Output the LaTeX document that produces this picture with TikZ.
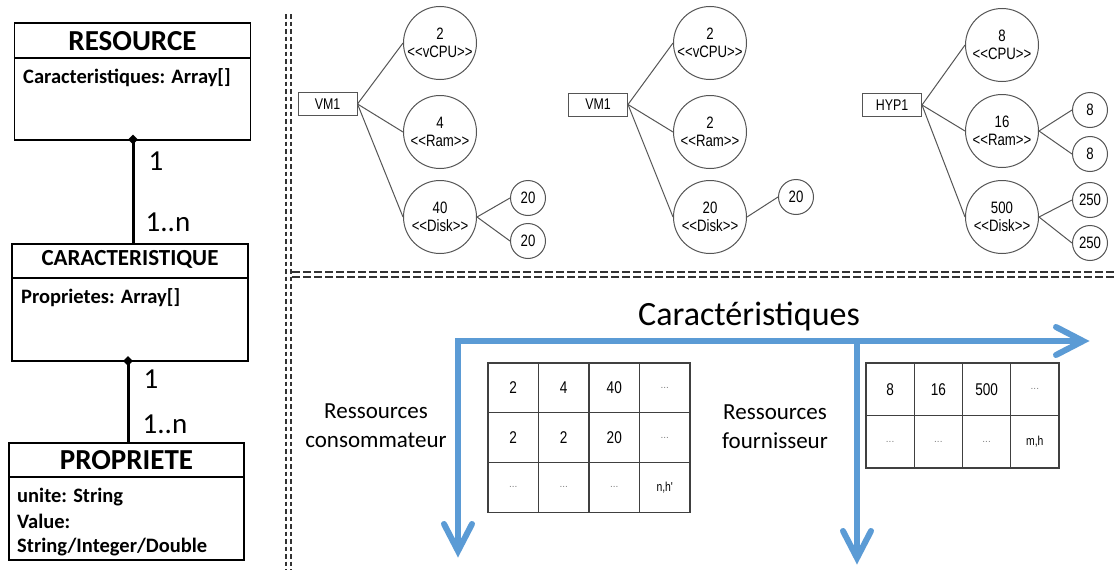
\documentclass[tikz,border=0pt]{standalone}
\usepackage{fontspec}
\setmainfont{Carlito}
\newfontfamily\arialf{Liberation Sans}
\usetikzlibrary{shapes.geometric}
\newcommand\nr[1]{\scalebox{0.8}[1]{#1}}
\newcommand\fs[1]{\fontsize{#1}{#1}\selectfont}
\definecolor{axisblue}{HTML}{5B9BD5}
\definecolor{treegray}{HTML}{555555}
\tikzset{
  umlbox/.style={draw=black, line width=1.4pt, inner sep=0pt},
  umltitle/.style={font=\fs{29}\bfseries, inner sep=0pt},
  umlattr/.style={font=\fs{20.5}\bfseries, inner sep=0pt, anchor=west},
  mult/.style={font=\fs{29}, inner sep=0pt},
  assoc/.style={line width=3pt},
  dmd/.style={diamond, fill=black, minimum size=10pt, inner sep=0pt},
  sep/.style={draw=black!80, line width=2pt},
  rootbox/.style={draw=treegray, line width=1pt, minimum width=59pt, minimum height=23pt, inner sep=0pt, font=\arialf\fs{15.5}},
  bigc/.style={circle, draw=treegray, line width=1pt, minimum size=73pt, inner sep=0pt, align=center, font=\arialf\fontsize{16.5}{17.5}\selectfont},
  smallc/.style={circle, draw=treegray, line width=1pt, minimum size=35pt, inner sep=0pt, font=\arialf\fs{16.5}},
  edge/.style={draw=treegray, line width=1pt},
  cellA/.style={draw=black!75, line width=1.2pt, minimum width=50.5pt, minimum height=49.7pt, inner sep=0pt, font=\arialf\fs{17}},
  cellB/.style={draw=black!75, line width=1.2pt, minimum width=48.25pt, minimum height=52.5pt, inner sep=0pt, font=\arialf\fs{17}},
  bluearrow/.style={draw=axisblue, line width=6pt},
  bluetip/.style={draw=axisblue, line width=6pt, line cap=round, line join=miter},
  axislabel/.style={font=\fontsize{23}{29}\selectfont, align=center, inner sep=0pt}
}
\newcommand\dt{\textcolor{gray}{\fs{10}...}}
\begin{document}
\begin{tikzpicture}[x=1pt,y=-1pt]
\useasboundingbox (0,0) rectangle (1114,570);
\fill[white] (0,0) rectangle (1114,570);

% ---------- UML ----------
\node[umlbox, minimum width=236pt, minimum height=117pt] (res) at (132.5,81.5) {};
\draw[line width=1.4pt] (res.west |- 0,58) coordinate (resdl) -- (res.east |- 0,58) coordinate (resdr);
\node[umltitle] (restitle) at (132.5,41) {RESOURCE};
\node[umlattr] (resattr) at (23,78) {Caracteristiques: Array[]};

\node[umlbox, minimum width=236pt, minimum height=117pt] (car) at (130,302.5) {};
\draw[line width=1.4pt] (car.west |- 0,278) coordinate (cardl) -- (car.east |- 0,278) coordinate (cardr);
\node[font=\fs{23}\bfseries, inner sep=0pt] (cartitle) at (130,259) {CARACTERISTIQUE};
\node[umlattr] (carattr) at (21,298) {Proprietes: Array[]};

\node[umlbox, minimum width=235pt, minimum height=117pt] (prop) at (126.5,501.5) {};
\draw[line width=1.4pt] (prop.west |- 0,477) coordinate (propdl) -- (prop.east |- 0,477) coordinate (propdr);
\node[umltitle] (proptitle) at (126.5,460) {PROPRIETE};
\node[umlattr] (pa1) at (17,497) {unite: String};
\node[umlattr] (pa2) at (17,521) {Value:};
\node[umlattr] (pa3) at (17,547) {String/Integer/Double};

\node[dmd] (d1) at (133,139.5) {};
\draw[assoc] (d1.center) -- (d1.center |- car.north);
\node[mult] (m1a) at (156,161) {1};
\node[mult] (m1b) at (168,222) {1..n};

\node[dmd] (d2) at (128,361) {};
\draw[assoc] (d2.center) -- (d2.center |- prop.north);
\node[mult] (m2a) at (151,379) {1};
\node[mult] (m2b) at (165,424) {1..n};

% ---------- separators ----------
\coordinate (vs1a) at (285.5,14);
\coordinate (vs1b) at (285.5,570);
\coordinate (vs2a) at (290.5,14);
\coordinate (vs2b) at (290.5,570);
\draw[sep, dash pattern=on 4.5pt off 3pt] (vs1a) -- (vs1b);
\draw[sep, dash pattern=on 4.5pt off 3pt] (vs2a) -- (vs2b);
\coordinate (hs1a) at (292,272);
\coordinate (hs1b) at (1114,272);
\coordinate (hs2a) at (292,276.5);
\coordinate (hs2b) at (1114,276.5);
\draw[sep, dash pattern=on 8pt off 3pt] (hs1a) -- (hs1b);
\draw[sep, dash pattern=on 8pt off 3pt] (hs2a) -- (hs2b);

% ---------- tree 1 ----------
\node[rootbox] (t1) at (327.5,104) {\nr{VM1}};
\node[bigc] (t1c) at (440,43) {\nr{2}\\\nr{<<vCPU>>}};
\node[bigc] (t1r) at (440,132) {\nr{4}\\\nr{<<Ram>>}};
\node[bigc] (t1d) at (440,217) {\nr{40}\\\nr{<<Disk>>}};
\node[smallc] (t1d1) at (528,198) {\nr{20}};
\node[smallc] (t1d2) at (528,241) {\nr{20}};
\draw[edge] (t1.east) -- (t1c.west);
\draw[edge] (t1.east) -- (t1r.west);
\draw[edge] (t1.east) -- (t1d.west);
\draw[edge] (t1d.east) -- (t1d1.west);
\draw[edge] (t1d.east) -- (t1d2.west);

% ---------- tree 2 ----------
\node[rootbox] (t2) at (598,104.5) {\nr{VM1}};
\node[bigc] (t2c) at (710,43) {\nr{2}\\\nr{<<vCPU>>}};
\node[bigc] (t2r) at (710,132) {\nr{2}\\\nr{<<Ram>>}};
\node[bigc] (t2d) at (710,217) {\nr{20}\\\nr{<<Disk>>}};
\node[smallc] (t2d1) at (796,197) {\nr{20}};
\draw[edge] (t2.east) -- (t2c.west);
\draw[edge] (t2.east) -- (t2r.west);
\draw[edge] (t2.east) -- (t2d.west);
\draw[edge] (t2d.east) -- (t2d1.west);

% ---------- tree 3 ----------
\node[rootbox] (t3) at (892,105) {\nr{HYP1}};
\node[bigc] (t3c) at (1002,45) {\nr{8}\\\nr{<<CPU>>}};
\node[bigc] (t3r) at (1002,131) {\nr{16}\\\nr{<<Ram>>}};
\node[bigc] (t3d) at (1002,217) {\nr{500}\\\nr{<<Disk>>}};
\node[smallc] (t3r1) at (1090,110) {\nr{8}};
\node[smallc] (t3r2) at (1090,154) {\nr{8}};
\node[smallc] (t3d1) at (1090,200) {\nr{250}};
\node[smallc] (t3d2) at (1090,243) {\nr{250}};
\draw[edge] (t3.east) -- (t3c.west);
\draw[edge] (t3.east) -- (t3r.west);
\draw[edge] (t3.east) -- (t3d.west);
\draw[edge] (t3r.east) -- (t3r1.west);
\draw[edge] (t3r.east) -- (t3r2.west);
\draw[edge] (t3d.east) -- (t3d1.west);
\draw[edge] (t3d.east) -- (t3d2.west);

% ---------- axes ----------
\node[font=\fs{34}, inner sep=0pt] (cartitle2) at (749,316) {Caractéristiques};
\coordinate (corner) at (458,341);
\coordinate (fork) at (857,341);
\coordinate (htip) at (1083,341);
\coordinate (v1tip) at (458,551);
\coordinate (v2tip) at (857,558);
\draw[bluearrow, line join=miter] (v1tip) -- (corner) -- (htip);
\draw[bluearrow] (fork) -- (v2tip);
\draw[bluetip] ([shift={(-27,-14)}]htip) -- (htip) -- ([shift={(-27,14)}]htip);
\draw[bluetip] ([shift={(-14,-27)}]v1tip) -- (v1tip) -- ([shift={(14,-27)}]v1tip);
\draw[bluetip] ([shift={(-14,-27)}]v2tip) -- (v2tip) -- ([shift={(14,-27)}]v2tip);
\node[axislabel] (rc) at (376,426) {Ressources\\consommateur};
\node[axislabel] (rf) at (775,427) {Ressources\\fournisseur};

% ---------- table 1 ----------
\node[cellA] (a11) at (513.25,387.85) {\nr{2}};
\node[cellA] (a12) at (563.75,387.85) {\nr{4}};
\node[cellA] (a13) at (614.25,387.85) {\nr{40}};
\node[cellA] (a14) at (664.75,387.85) {\dt};
\node[cellA] (a21) at (513.25,437.55) {\nr{2}};
\node[cellA] (a22) at (563.75,437.55) {\nr{2}};
\node[cellA] (a23) at (614.25,437.55) {\nr{20}};
\node[cellA] (a24) at (664.75,437.55) {\dt};
\node[cellA] (a31) at (513.25,487.25) {\dt};
\node[cellA] (a32) at (563.75,487.25) {\dt};
\node[cellA] (a33) at (614.25,487.25) {\dt};
\node[cellA] (a34) at (664.75,487.25) {\nr{\fs{13}n,h'}};

% ---------- table 2 ----------
\node[cellB] (b11) at (890.1,389.25) {\nr{8}};
\node[cellB] (b12) at (938.35,389.25) {\nr{16}};
\node[cellB] (b13) at (986.6,389.25) {\nr{500}};
\node[cellB] (b14) at (1034.85,389.25) {\dt};
\node[cellB] (b21) at (890.1,441.75) {\dt};
\node[cellB] (b22) at (938.35,441.75) {\dt};
\node[cellB] (b23) at (986.6,441.75) {\dt};
\node[cellB] (b24) at (1034.85,441.75) {\nr{\fs{13}m,h}};
\end{tikzpicture}
\end{document}
